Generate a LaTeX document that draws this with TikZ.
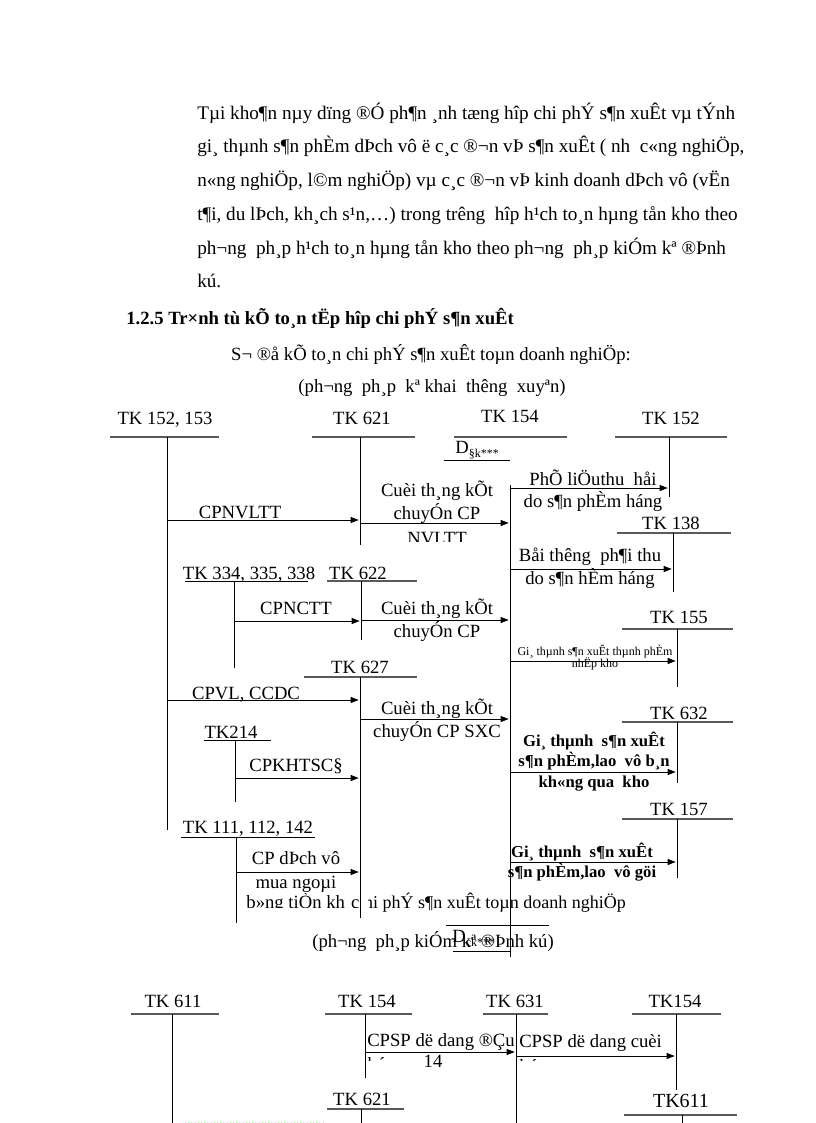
\documentclass[tikz,border=0pt]{standalone}
\usepackage{fontspec}
\setmainfont{Liberation Serif}
\usetikzlibrary{arrows.meta}
\tikzset{
  txt/.style={inner sep=0pt,text height=9.5pt,text depth=2.5pt,font=\fontsize{14}{16}\selectfont},
  para/.style={txt,anchor=west,font=\fontsize{14.4}{16}\selectfont},
  acct/.style={txt},
  tiny/.style={inner sep=0pt,font=\fontsize{9}{10}\selectfont},
  bold/.style={txt,font=\fontsize{12.5}{14}\selectfont\bfseries},
  tline/.style={black!65,line width=1.2pt},
  uline/.style={black,line width=0.6pt},
  vline/.style={black,line width=0.6pt},
  flow/.style={vline,-{Triangle[length=6pt,width=4.5pt]},shorten >=1pt},
}
\begin{document}
\begin{tikzpicture}[x=0.75pt,y=-0.75pt]
  \useasboundingbox (0,0) rectangle (816,1123);
  % text above the scheme
  \node[para] (p1) at (197,115) {Tµi kho¶n nµy dïng ®Ó ph¶n ¸nh tæng hîp chi phÝ s¶n xuÊt vµ tÝnh};
  \node[para] (p2) at (197,148) {gi¸ thµnh s¶n phÈm dÞch vô ë c¸c ®¬n vÞ s¶n xuÊt ( nh\ \ c«ng nghiÖp,};
  \node[para] (p3) at (197,182) {n«ng nghiÖp, l©m nghiÖp) vµ c¸c ®¬n vÞ kinh doanh dÞch vô (vËn};
  \node[para] (p4) at (197,216) {t¶i, du lÞch, kh¸ch s¹n,…) trong trêng\ \ hîp h¹ch to¸n hµng tån kho theo};
  \node[para] (p5) at (197,250) {ph¬ng\ \ ph¸p h¹ch to¸n hµng tån kho theo ph¬ng\ \ ph¸p kiÓm kª ®Þnh};
  \node[para] (p6) at (197,283) {kú.};
  \node[para,font=\fontsize{14}{16}\selectfont\bfseries] (head) at (126,320) {1.2.5 Tr×nh tù kÕ to¸n tËp hîp chi phÝ s¶n xuÊt};
  \node[txt] (title1) at (431,356) {S¬ ®å kÕ to¸n chi phÝ s¶n xuÊt toµn doanh nghiÖp:};
  \node[txt] (sub1) at (432,388) {(ph¬ng\ \ ph¸p\ \ kª khai\ \ thêng\ \ xuyªn)};

  % second title, partly hidden by the text box of TK 111
  \node[txt,anchor=east,font=\fontsize{13.5}{15}\selectfont] (title2) at (626,904) {S¬ ®å kÕ to¸n chi phÝ s¶n xuÊt toµn doanh nghiÖp};
  \fill[white] (238,893) rectangle (368,916);
  \begin{scope}
    \clip (236,893) rectangle (370,907);
    \node[txt] (bang) at (303,904) {b»ng tiÒn kh¸c};
  \end{scope}

  % accounts, upper scheme
  \node[acct] (k152a) at (165,420) {TK 152, 153};
  \draw[tline] (110,437) -- (219,437);
  \coordinate (v152a) at (167,437);
  \draw[vline] (v152a) -- ++(0,393);
  \node[acct] (k621) at (362,420) {TK 621};
  \draw[tline] (312,437) -- (415,437);
  \coordinate (v621) at (360,437);
  \draw[vline] (v621) -- ++(0,108);
  \node[acct] (k154) at (510,418) {TK 154};
  \draw[tline] (454,437) -- (567,437);
  \node[txt,anchor=west] (dsk) at (455,449) {D\raisebox{-3pt}{\fontsize{9}{9}\selectfont §k***}};
  \draw[uline] (444,460) -- (510,460);
  \coordinate (v154) at (510,485);
  \draw[vline] (v154) -- ++(0,472);
  \node[acct] (k152b) at (671,420) {TK 152};
  \draw[tline] (615,437) -- (727,437);
  \coordinate (v152b) at (669,437);
  \draw[vline] (v152b) -- ++(0,60);
  \node[acct] (k138) at (671,525) {TK 138};
  \draw[tline] (617,533) -- (731,533);
  \coordinate (v138) at (673,533);
  \draw[vline] (v138) -- ++(0,59);
  \node[acct] (k334) at (249,575) {TK 334, 335, 338};
  \draw[uline] (185,581) -- (308,581);
  \coordinate (v334) at (234,581);
  \draw[vline] (v334) -- ++(0,87);
  \node[acct] (k622) at (358,575) {TK 622};
  \draw[tline] (327,581) -- (417,581);
  \coordinate (v622) at (361,581);
  \draw[vline] (v622) -- ++(0,59);
  \node[acct] (k155) at (679,619) {TK 155};
  \draw[tline] (622,629) -- (733,629);
  \coordinate (v155) at (677,629);
  \draw[vline] (v155) -- ++(0,58);
  \node[acct] (k627) at (360,669) {TK 627};
  \draw[tline] (304,677) -- (417,677);
  \coordinate (v627) at (360,677);
  \draw[vline] (v627) -- ++(0,241);
  \node[acct] (k632) at (679,715) {TK 632};
  \draw[tline] (622,722) -- (733,722);
  \coordinate (v632) at (677,722);
  \draw[vline] (v632) -- ++(0,61);
  \node[acct] (k214) at (231,734) {TK214};
  \draw[uline] (204,740) -- (271,740);
  \coordinate (v214) at (235,740);
  \draw[vline] (v214) -- ++(0,62);
  \node[acct] (k157) at (679,811) {TK 157};
  \draw[tline] (622,819) -- (733,819);
  \coordinate (v157) at (677,819);
  \draw[vline] (v157) -- ++(0,59);
  \node[acct] (k111) at (248,829) {TK 111, 112, 142};
  \draw[uline] (181,837) -- (315,837);
  \coordinate (v111) at (236,837);
  \draw[vline] (v111) -- ++(0,86);

  % flows, upper scheme
  \draw[flow] (v152a |- 0,520) -- (v621 |- 0,520);
  \node[txt] (l1) at (240,514) {CPNVLTT};
  \draw[flow] (v621 |- 0,523) -- (v154 |- 0,523);
  \node[txt] (l2a) at (437,492) {Cuèi th¸ng kÕt};
  \node[txt] (l2b) at (437,515) {chuyÓn CP};
  \begin{scope}
    \clip (380,525) rectangle (500,541);
    \node[txt] (l2c) at (437,540) {NVLTT};
  \end{scope}
  \draw[flow] (v154 |- 0,488) -- (v152b |- 0,488);
  \node[txt] (l3a) at (593,481) {PhÕ liÖuthu\ \ håi};
  \node[txt] (l3b) at (593,503) {do s¶n phÈm háng};
  \draw[flow] (v154 |- 0,569) -- (v138 |- 0,569);
  \node[txt] (l4a) at (590,557) {Båi thêng\ \ ph¶i thu};
  \node[txt] (l4b) at (590,580) {do s¶n hÈm háng};
  \draw[flow] (v334 |- 0,621) -- (v622 |- 0,621);
  \node[txt] (l5) at (296,610) {CPNCTT};
  \draw[flow] (v622 |- 0,620) -- (v154 |- 0,620);
  \node[txt] (l6a) at (437,610) {Cuèi th¸ng kÕt};
  \node[txt] (l6b) at (437,633) {chuyÓn CP};
  \draw[flow] (v154 |- 0,661) -- (v155 |- 0,661);
  \node[tiny] (l7a) at (595,652) {Gi¸ thµnh s¶n xuÊt thµnh phÈm};
  \node[tiny] (l7b) at (595,664) {nhËp kho};
  \draw[flow] (v152a |- 0,700) -- (v627 |- 0,700);
  \node[txt] (l8) at (246,695) {CPVL, CCDC};
  \draw[flow] (v627 |- 0,719) -- (v154 |- 0,719);
  \node[txt] (l9a) at (437,710) {Cuèi th¸ng kÕt};
  \node[txt] (l9b) at (437,733) {chuyÓn CP SXC};
  \draw[flow] (v214 |- 0,778) -- (v627 |- 0,778);
  \node[txt] (l10) at (296,767) {CPKHTSC§};
  \draw[flow] (v154 |- 0,772) -- (v632 |- 0,772);
  \node[bold] (l11a) at (594,742) {Gi¸ thµnh\ \ s¶n xuÊt};
  \node[bold] (l11b) at (594,762) {s¶n phÈm,lao\ \ vô b¸n};
  \node[bold] (l11c) at (594,783) {kh«ng qua\ \ kho};
  \draw[flow] (v111 |- 0,872) -- (v627 |- 0,872);
  \node[txt] (l12a) at (296,860) {CP dÞch vô};
  \node[txt] (l12b) at (296,884) {mua ngoµi};
  \draw[flow] (v154 |- 0,862) -- (v157 |- 0,862);
  \node[bold] (l13a) at (582,853) {Gi¸ thµnh\ \ s¶n xuÊt};
  \node[bold] (l13b) at (582,873) {s¶n phÈm,lao\ \ vô göi};

  % heading of the lower scheme
  \draw[uline] (446,925) -- (549,925);
  \node[txt] (sub2) at (433,943) {(ph¬ng\ \ ph¸p kiÓm kª ®Þnh kú)};
  \node[txt,anchor=west] (dck) at (452,938) {D\raisebox{-3pt}{\fontsize{9}{9}\selectfont ck***}};
  \draw[uline] (453,951) -- (510,951);

  % accounts, lower scheme
  \node[acct] (k611) at (173,1003) {TK 611};
  \draw[tline] (131,1014) -- (219,1014);
  \coordinate (v611) at (172,1014);
  \draw[vline] (v611) -- ++(0,109);
  \node[acct] (k154b) at (367,1003) {TK 154};
  \draw[tline] (325,1014) -- (412,1014);
  \coordinate (v154b) at (365,1014);
  \draw[vline] (v154b) -- ++(0,64);
  \node[acct] (k631) at (515,1003) {TK 631};
  \draw[tline] (483,1014) -- (548,1014);
  \coordinate (v631) at (516,1014);
  \draw[vline] (v631) -- ++(0,109);
  \node[acct] (k154c) at (675,1003) {TK154};
  \draw[tline] (632,1014) -- (721,1014);
  \coordinate (v154c) at (676,1014);
  \draw[vline] (v154c) -- ++(0,76);
  \node[acct] (k621b) at (362,1101) {TK 621};
  \draw[tline] (327,1109) -- (404,1109);
  \coordinate (v621b) at (361,1109);
  \draw[vline] (v621b) -- ++(0,14);
  \node[acct,font=\fontsize{15}{17}\selectfont] (k611b) at (681,1103) {TK611};
  \draw[tline] (624,1115) -- (737,1115);
  \coordinate (v611b) at (682,1115);
  \draw[vline] (v611b) -- ++(0,8);

  % flows, lower scheme
  \draw[flow] (v154b |- 0,1052) -- (v631 |- 0,1052);
  \node[txt,anchor=west] (m1) at (367,1042) {CPSP dë dang ®Çu};
  \draw[flow] (v631 |- 0,1056) -- (v154c |- 0,1056);
  \node[txt,anchor=west] (m2) at (519,1043) {CPSP dë dang cuèi};
  \begin{scope}
    \clip (360,1054) rectangle (540,1060);
    \node[txt,anchor=west] (m1b) at (367,1066) {kú};
    \node[txt,anchor=west] (m2b) at (519,1068) {kú};
  \end{scope}
  \node[txt] (page) at (433,1063) {14};
  \draw[green!45!white,dotted] (185,1122) -- (325,1122);
\end{tikzpicture}
\end{document}
